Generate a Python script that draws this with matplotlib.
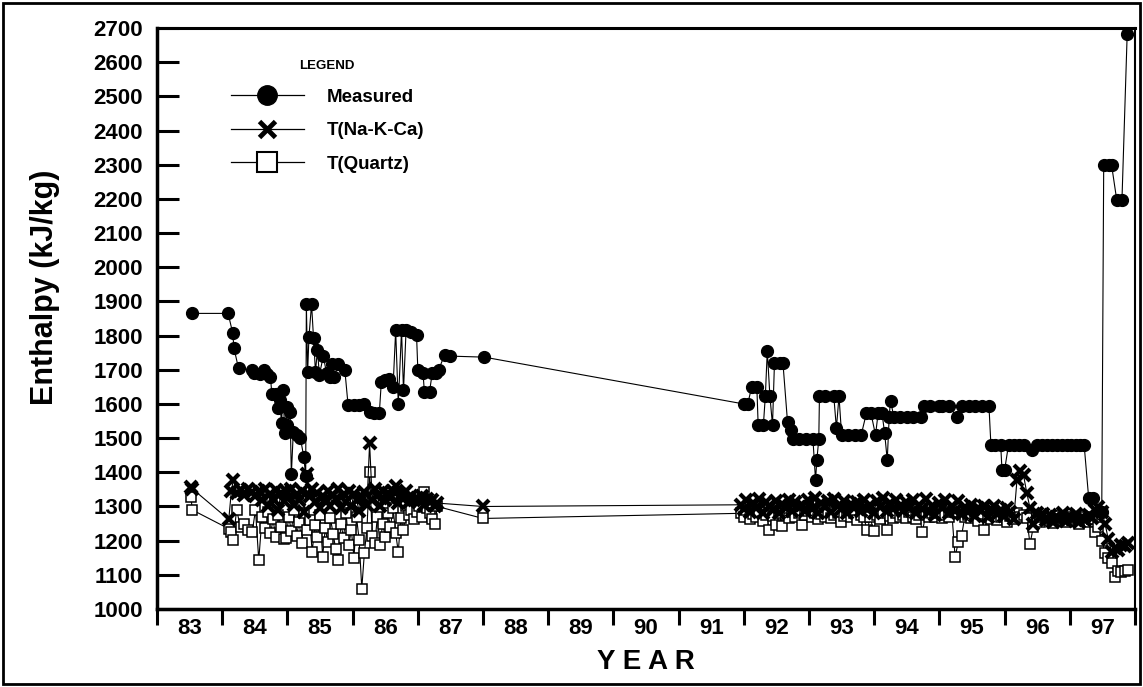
import numpy as np
import matplotlib
matplotlib.use('Agg')
import matplotlib.pyplot as plt
from matplotlib.lines import Line2D
from matplotlib.patches import Rectangle

plt.rcParams['font.family'] = ['Liberation Sans', 'DejaVu Sans']
plt.rcParams['font.weight'] = 'bold'

# measured enthalpy (decimal year, kJ/kg)
meas_years = [83.53, 84.09, 84.16, 84.18, 84.25, 84.45, 84.48, 84.58, 84.64, 84.68,
              84.74, 84.76, 84.83, 84.86, 84.88, 84.91, 84.93, 84.96, 84.99, 85.00,
              85.04, 85.06, 85.09, 85.14, 85.20, 85.25, 85.28, 85.29, 85.31, 85.33,
              85.37, 85.40, 85.43, 85.46, 85.49, 85.55, 85.60, 85.65, 85.68, 85.72,
              85.78, 85.88, 85.93, 86.02, 86.10, 86.18, 86.26, 86.33, 86.41, 86.44,
              86.50, 86.56, 86.62, 86.66, 86.70, 86.75, 86.78, 86.82, 86.90, 86.98,
              87.00, 87.08, 87.10, 87.18, 87.22, 87.28, 87.32, 87.41, 87.50, 88.02,
              92.00, 92.06, 92.12, 92.20, 92.22, 92.30, 92.33, 92.36, 92.40, 92.44,
              92.47, 92.55, 92.60, 92.67, 92.72, 92.76, 92.85, 92.95, 93.06, 93.10,
              93.12, 93.15, 93.16, 93.25, 93.38, 93.42, 93.46, 93.50, 93.60, 93.70,
              93.80, 93.88, 93.95, 94.02, 94.06, 94.12, 94.16, 94.20, 94.23, 94.25,
              94.30, 94.40, 94.50, 94.60, 94.72, 94.76, 94.85, 94.99, 95.04, 95.15,
              95.27, 95.35, 95.45, 95.55, 95.65, 95.76, 95.79, 95.85, 95.94, 95.96,
              96.00, 96.06, 96.15, 96.22, 96.30, 96.42, 96.50, 96.58, 96.65, 96.72,
              96.80, 96.88, 96.95, 97.02, 97.10, 97.16, 97.22, 97.29, 97.36, 97.49,
              97.52, 97.60, 97.64, 97.72, 97.80, 97.88]
meas_vals = [1865, 1865, 1808, 1763, 1704, 1700, 1690, 1688, 1700, 1688,
             1680, 1629, 1629, 1587, 1612, 1543, 1640, 1514, 1592, 1538,
             1577, 1394, 1519, 1510, 1499, 1446, 1390, 1892, 1694, 1797,
             1892, 1792, 1694, 1758, 1685, 1740, 1690, 1680, 1716, 1680,
             1716, 1700, 1597, 1597, 1597, 1600, 1577, 1575, 1575, 1665,
             1670, 1672, 1650, 1815, 1600, 1815, 1640, 1817, 1810, 1802,
             1700, 1690, 1636, 1636, 1690, 1690, 1700, 1744, 1740, 1737,
             1600, 1600, 1649, 1649, 1538, 1538, 1623, 1755, 1623, 1538,
             1720, 1720, 1720, 1548, 1525, 1497, 1497, 1497, 1497, 1377,
             1436, 1497, 1623, 1623, 1623, 1529, 1623, 1509, 1509, 1509,
             1509, 1573, 1573, 1509, 1573, 1573, 1514, 1436, 1563, 1610,
             1563, 1563, 1563, 1563, 1563, 1594, 1594, 1594, 1594, 1594,
             1561, 1594, 1594, 1594, 1594, 1594, 1480, 1480, 1480, 1407,
             1407, 1480, 1480, 1480, 1480, 1465, 1480, 1480, 1480, 1480,
             1480, 1480, 1480, 1480, 1480, 1480, 1480, 1324, 1324, 1285,
             2300, 2300, 2300, 2197, 2197, 2682]

# geothermometer samples (same sampling dates for both)
sample_years = [83.52, 83.54, 84.10, 84.14, 84.17, 84.22, 84.28, 84.34, 84.40, 84.46, 84.51,
                84.56, 84.61, 84.66, 84.70, 84.74, 84.78, 84.82, 84.86, 84.90, 84.94,
                84.98, 85.02, 85.06, 85.10, 85.14, 85.18, 85.22, 85.26, 85.30, 85.34,
                85.38, 85.42, 85.46, 85.50, 85.54, 85.58, 85.62, 85.66, 85.70, 85.74,
                85.78, 85.82, 85.86, 85.90, 85.94, 85.98, 86.02, 86.06, 86.10, 86.14,
                86.18, 86.22, 86.26, 86.30, 86.34, 86.38, 86.42, 86.46, 86.50, 86.54,
                86.58, 86.62, 86.66, 86.70, 86.74, 86.78, 86.82, 86.86, 86.90, 86.94,
                86.98, 87.02, 87.06, 87.10, 87.14, 87.18, 87.22, 87.26, 87.30, 88.00,
                91.95, 92.00, 92.04, 92.09, 92.14, 92.19, 92.24, 92.29, 92.34, 92.39,
                92.44, 92.49, 92.54, 92.59, 92.64, 92.69, 92.74, 92.79, 92.84, 92.89,
                92.94, 92.99, 93.04, 93.09, 93.14, 93.19, 93.24, 93.29, 93.34, 93.39,
                93.44, 93.49, 93.54, 93.59, 93.64, 93.69, 93.74, 93.79, 93.84, 93.89,
                93.94, 93.99, 94.04, 94.09, 94.14, 94.19, 94.24, 94.29, 94.34, 94.39,
                94.44, 94.49, 94.54, 94.59, 94.64, 94.69, 94.74, 94.79, 94.84, 94.89,
                94.94, 94.99, 95.04, 95.09, 95.14, 95.19, 95.24, 95.29, 95.34, 95.39,
                95.44, 95.49, 95.54, 95.59, 95.64, 95.69, 95.74, 95.79, 95.84, 95.89,
                95.94, 95.99, 96.04, 96.09, 96.14, 96.19, 96.24, 96.29, 96.34, 96.39,
                96.44, 96.49, 96.54, 96.59, 96.64, 96.69, 96.74, 96.79, 96.84, 96.89,
                96.94, 96.99, 97.04, 97.09, 97.14, 97.19, 97.24, 97.29, 97.34, 97.39,
                97.44, 97.49, 97.54, 97.59, 97.64, 97.69, 97.74, 97.79, 97.84, 97.89]
t_nakca = [1357, 1352, 1262, 1345, 1378, 1340, 1348, 1335, 1350, 1342, 1330,
           1345, 1318, 1352, 1300, 1336, 1322, 1348, 1290, 1340, 1315,
           1345, 1328, 1352, 1305, 1338, 1320, 1346, 1285, 1395, 1330,
           1350, 1312, 1340, 1296, 1332, 1318, 1346, 1302, 1335, 1322,
           1350, 1295, 1338, 1312, 1345, 1300, 1336, 1318, 1288, 1328,
           1342, 1305, 1485, 1320, 1352, 1330, 1300, 1345, 1318, 1340,
           1325, 1345, 1360, 1310, 1335, 1322, 1345, 1312, 1330, 1318,
           1325, 1315, 1330, 1305, 1322, 1312, 1320, 1300, 1310, 1300,
           1305, 1292, 1318, 1285, 1310, 1296, 1322, 1280, 1312, 1300,
           1290, 1316, 1282, 1308, 1295, 1320, 1286, 1312, 1298, 1305,
           1288, 1318, 1294, 1325, 1282, 1310, 1298, 1316, 1285, 1322,
           1300, 1292, 1315, 1280, 1308, 1296, 1312, 1288, 1318, 1294,
           1305, 1282, 1316, 1298, 1325, 1286, 1310, 1292, 1320, 1300,
           1288, 1312, 1296, 1318, 1282, 1305, 1292, 1322, 1285, 1300,
           1276, 1310, 1295, 1318, 1282, 1300, 1288, 1315, 1278, 1298,
           1285, 1305, 1272, 1296, 1288, 1302, 1268, 1292, 1300, 1278,
           1290, 1272, 1296, 1285, 1262, 1378, 1405, 1392, 1340, 1295,
           1250, 1282, 1265, 1278, 1260, 1275, 1256, 1270, 1262, 1280,
           1258, 1272, 1262, 1278, 1255, 1268, 1260, 1275, 1265, 1290,
           1298, 1285, 1250, 1205, 1168, 1180, 1172, 1188, 1185, 1194]
t_quartz = [1329, 1290, 1235, 1226, 1202, 1290, 1240, 1250, 1232, 1226, 1290,
            1143, 1268, 1236, 1284, 1221, 1262, 1210, 1275, 1240, 1206,
            1207, 1270, 1228, 1290, 1215, 1255, 1192, 1280, 1232, 1260,
            1168, 1245, 1210, 1275, 1153, 1236, 1195, 1265, 1220, 1176,
            1143, 1250, 1208, 1280, 1186, 1232, 1150, 1268, 1202, 1060,
            1163, 1238, 1400, 1215, 1192, 1270, 1186, 1250, 1210, 1282,
            1240, 1296, 1221, 1168, 1265, 1230, 1300, 1275, 1290, 1262,
            1285, 1302, 1270, 1343, 1295, 1280, 1262, 1250, 1300, 1265,
            1280, 1270, 1290, 1262, 1278, 1268, 1285, 1258, 1275, 1231,
            1272, 1245, 1280, 1242, 1275, 1265, 1285, 1268, 1280, 1245,
            1275, 1288, 1268, 1282, 1262, 1278, 1270, 1285, 1265, 1275,
            1280, 1255, 1272, 1285, 1268, 1280, 1260, 1275, 1270, 1230,
            1268, 1228, 1275, 1262, 1282, 1232, 1272, 1265, 1280, 1268,
            1275, 1265, 1284, 1270, 1262, 1274, 1226, 1278, 1268, 1282,
            1270, 1280, 1265, 1276, 1268, 1284, 1153, 1195, 1215, 1270,
            1276, 1265, 1272, 1258, 1278, 1230, 1270, 1264, 1275, 1260,
            1268, 1278, 1255, 1272, 1262, 1282, 1268, 1274, 1265, 1190,
            1240, 1268, 1255, 1270, 1260, 1266, 1252, 1272, 1262, 1266,
            1255, 1270, 1260, 1266, 1250, 1262, 1268, 1256, 1264, 1225,
            1240, 1200, 1165, 1150, 1134, 1095, 1110, 1107, 1112, 1115]

year_labels = ['83', '84', '85', '86', '87', '88', '89', '90', '91', '92',
               '93', '94', '95', '96', '97']
y_ticks = list(range(1000, 2800, 100))


fig = plt.figure(figsize=(11.43, 6.87), dpi=100)
ax = fig.add_axes([0.1374, 0.1135, 0.8556, 0.8457])

ax.plot(sample_years, t_quartz, '-', color='k', lw=0.8, marker='s', ms=6.5,
        mfc='white', mec='k', mew=1.1)
ax.plot(sample_years, t_nakca, '-', color='k', lw=0.8, marker='x', ms=8.5, mew=3.0)
ax.plot(meas_years, meas_vals, '-', color='k', lw=0.8, marker='o', ms=8.5)

ax.set_xlim(83, 98)
ax.set_ylim(1000, 2700)
ax.set_yticks(y_ticks)

ax.set_xticks(range(83, 99))
ax.set_xticks(np.arange(83.5, 98, 1), minor=True)
ax.set_xticklabels(year_labels, minor=True)
ax.tick_params(axis='x', which='major', direction='out', length=11.5, width=2.2,
               labelbottom=False)
ax.tick_params(axis='x', which='minor', length=0, pad=6.5, labelsize=16)
ax.tick_params(axis='y', direction='in', length=16, width=2.2, pad=10, labelsize=16)

for side, w in [('left', 2.5), ('bottom', 2.5), ('top', 2.2), ('right', 1.5)]:
    ax.spines[side].set_linewidth(w)

handles = [Line2D([], [], color='k', lw=0.9, marker='o', ms=14),
           Line2D([], [], color='k', lw=0.9, marker='x', ms=12, mew=3.5),
           Line2D([], [], color='k', lw=0.9, marker='s', ms=14, mfc='white', mew=1.5)]
ax.legend(handles, ['Measured', 'T(Na-K-Ca)', 'T(Quartz)'], title='LEGEND',
          loc='upper left', bbox_to_anchor=(0.058, 0.974), frameon=False,
          handlelength=3.9, handletextpad=1.2, labelspacing=0.88,
          prop={'size': 13.5, 'weight': 'bold'},
          title_fontproperties={'size': 9.5, 'weight': 'bold'})

fig.text(646 / 1143, 1 - 662 / 687, 'Y E A R', ha='center', va='center',
         fontsize=20, weight='bold')
fig.text(45 / 1143, 1 - 287 / 687, 'Enthalpy (kJ/kg)', rotation=90, ha='center',
         va='center', fontsize=22, weight='bold')

fig.patches.append(Rectangle((0.003, 0.005), 0.994, 0.99, transform=fig.transFigure,
                             fill=False, lw=2, color='k'))

fig.savefig('out.png', dpi=100)
